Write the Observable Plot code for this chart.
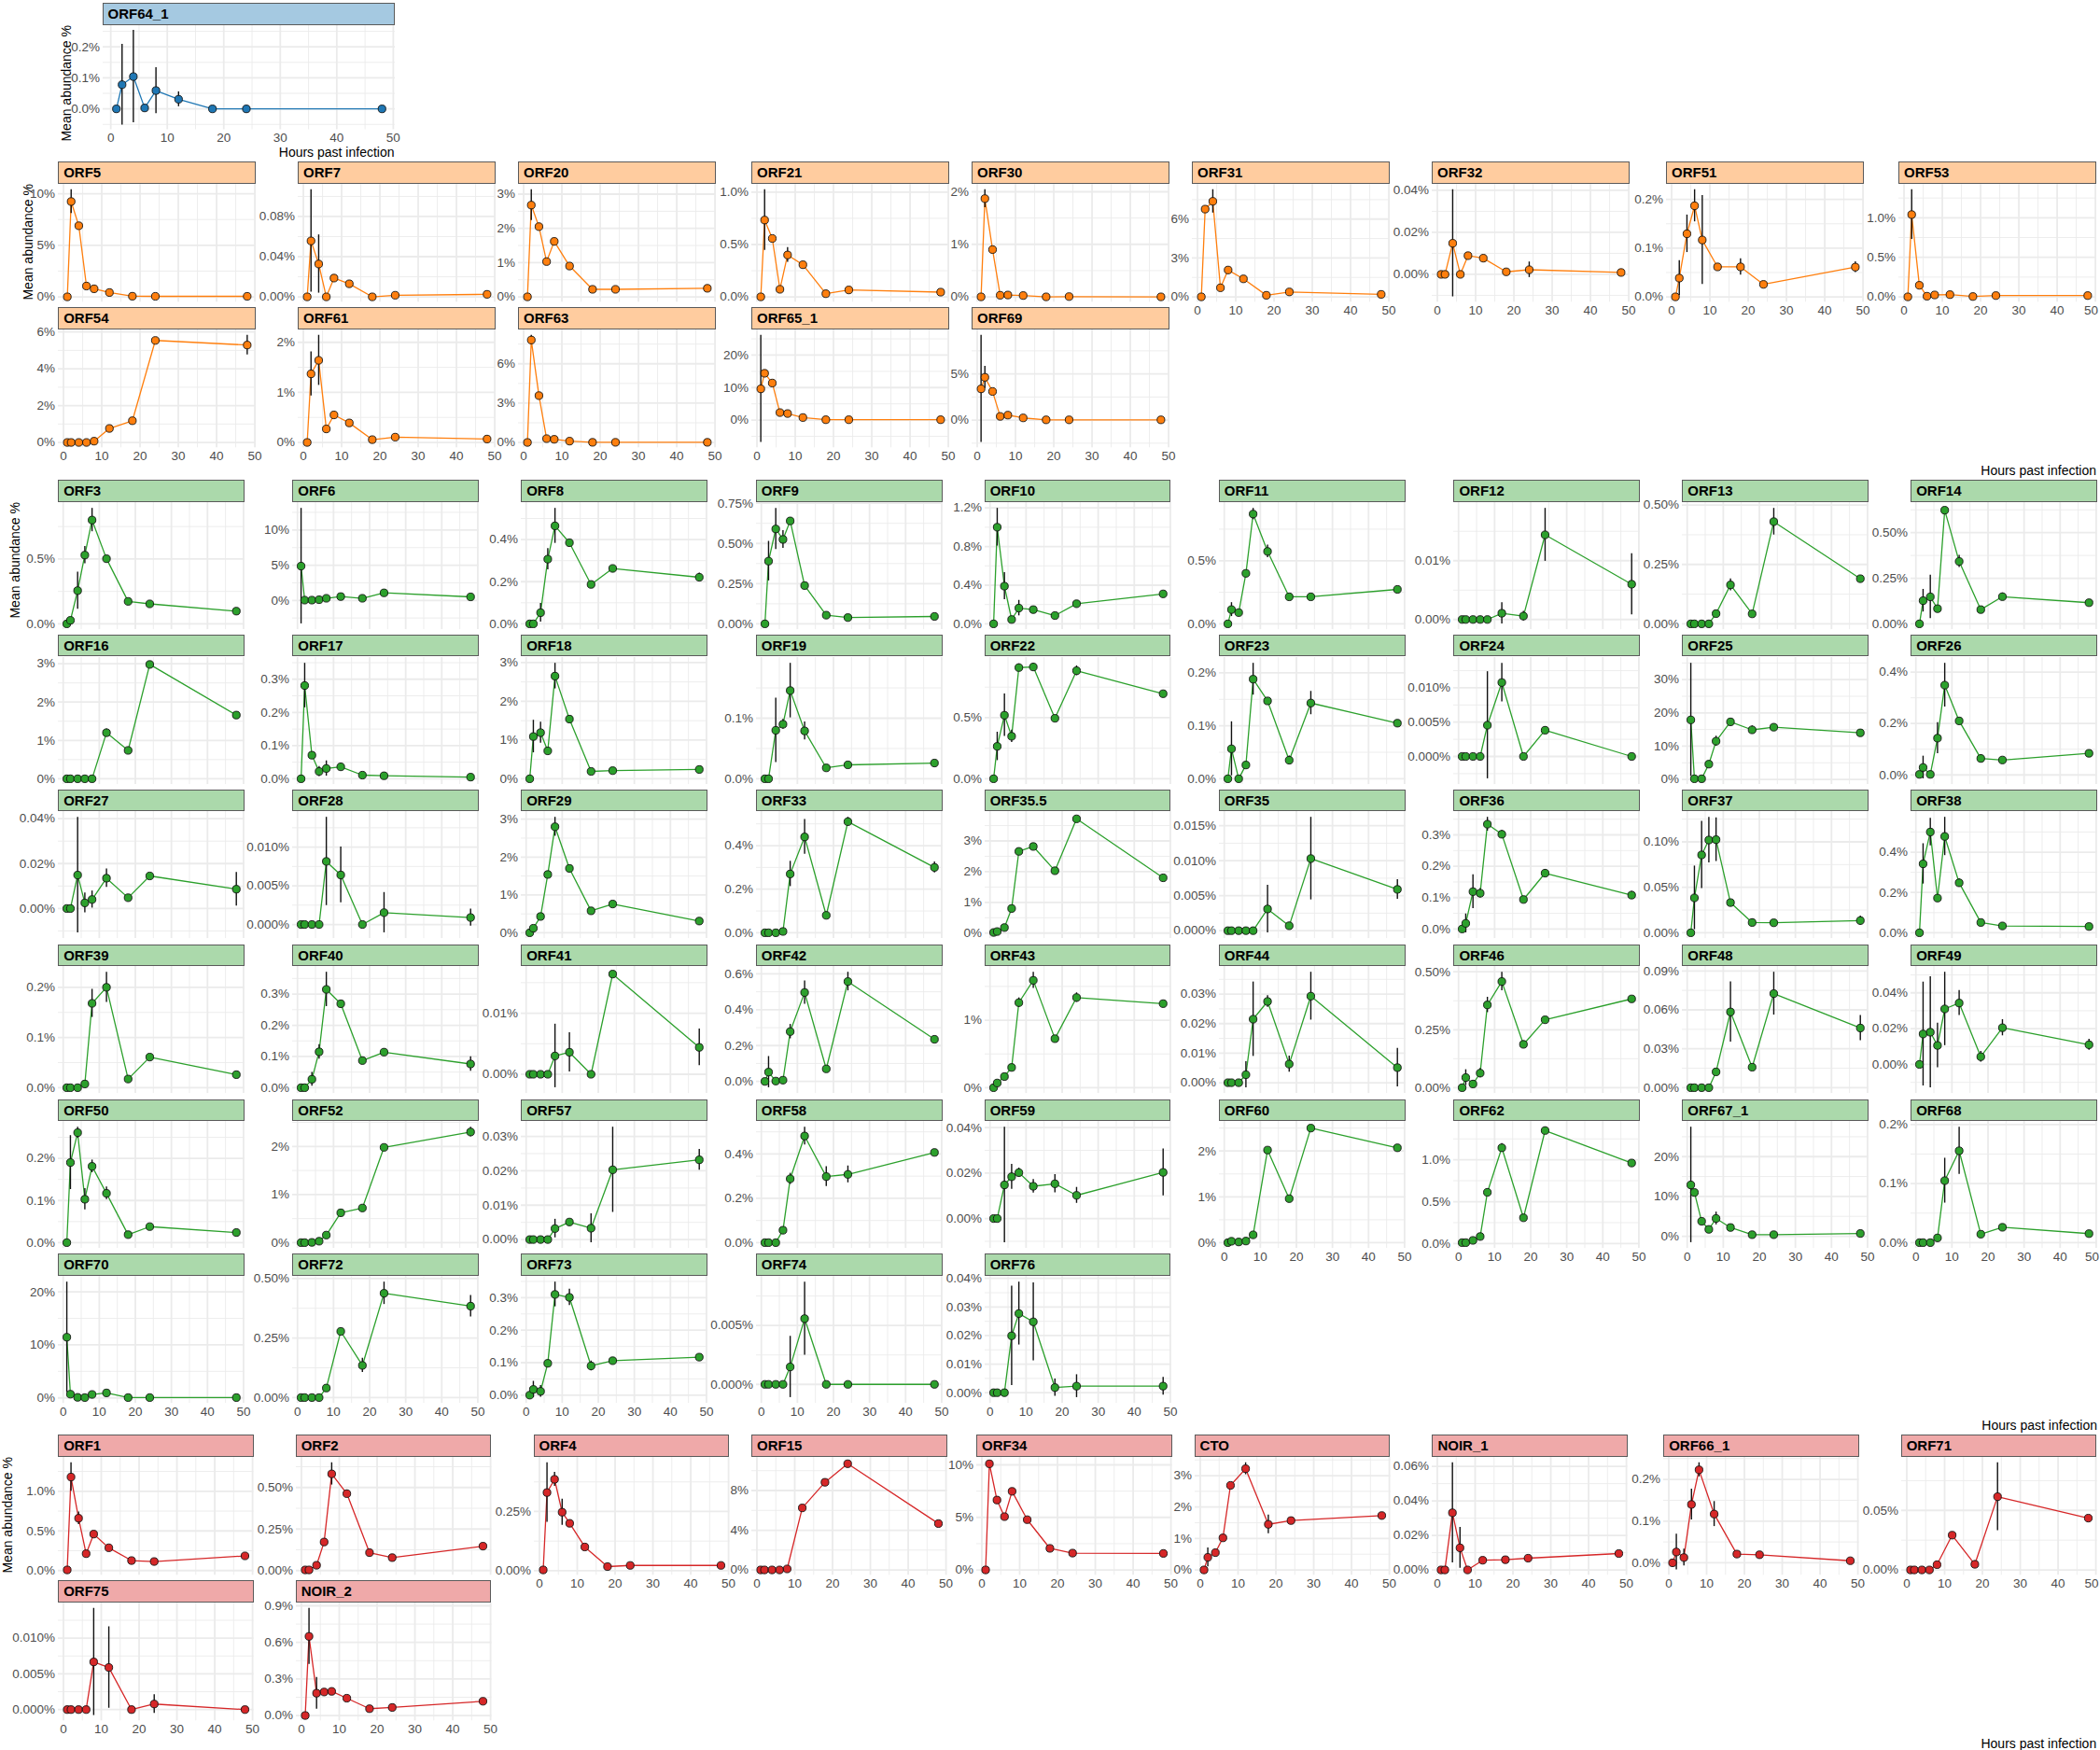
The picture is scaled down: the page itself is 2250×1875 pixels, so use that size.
<!DOCTYPE html>
<html><head><meta charset="utf-8">
<script src="https://cdn.jsdelivr.net/npm/d3@7"></script>
<script src="https://cdn.jsdelivr.net/npm/@observablehq/plot@0.6"></script>
<style>
body{margin:0;background:#fff;}
#chart{position:relative;width:2250px;height:1875px;font-family:"Liberation Sans",Arial,sans-serif;overflow:hidden;background:#fff;}
.strip{position:absolute;box-sizing:border-box;border:1px solid #5a5a5a;font-weight:bold;font-size:15px;color:#000;padding-left:5px;display:flex;align-items:center;white-space:nowrap;}
.ttl{position:absolute;font-size:14px;line-height:16px;color:#000;white-space:nowrap;}
.wrap{position:absolute;}
.wrap svg{max-width:none !important;}
</style></head><body><div id="chart"></div>
<script>
// ---------------- data ----------------
const hours = [1, 2, 4, 6, 8, 12, 18, 24, 48];
const hourTicks = [0, 10, 20, 30, 40, 50];

const blueNames = ["ORF64_1"];
const blueMean = [[0, 0.078, 0.104, 0.003, 0.059, 0.031, 0, 0, 0]];
const blueErr  = [[0, 0.13, 0.149, 0, 0.074, 0.024, 0, 0, 0]];
const blueTicks = [[0, 0.1, 0.2]];

const orangeNames = ["ORF5","ORF7","ORF20","ORF21","ORF30","ORF31","ORF32","ORF51","ORF53","ORF54","ORF61","ORF63","ORF65_1","ORF69"];
const orangeMean = [
  [0, 9.25, 6.9, 1.05, 0.78, 0.42, 0.06, 0.05, 0.05],
  [0, 0.0557, 0.0327, 0, 0.0187, 0.013, 0, 0.0016, 0.0025],
  [0, 2.68, 2.05, 1.03, 1.62, 0.9, 0.22, 0.22, 0.25],
  [0, 0.734, 0.558, 0.072, 0.4, 0.307, 0.03, 0.066, 0.045],
  [0, 1.87, 0.9, 0.03, 0.035, 0.025, 0, 0.005, 0],
  [0, 6.77, 7.37, 0.7, 2.07, 1.39, 0.12, 0.38, 0.19],
  [0, 0, 0.0148, 0, 0.0089, 0.0077, 0.0012, 0.0022, 0.0009],
  [0, 0.0385, 0.1295, 0.187, 0.1167, 0.0615, 0.0615, 0.0256, 0.061],
  [0, 1.04, 0.146, 0.008, 0.024, 0.028, 0.004, 0.016, 0.016],
  [0, 0, 0, 0, 0.07, 0.76, 1.18, 5.54, 5.29],
  [0, 1.37, 1.64, 0.27, 0.55, 0.39, 0.056, 0.106, 0.068],
  [0, 7.81, 3.57, 0.29, 0.24, 0.1, 0.01, 0.01, 0.01],
  [9.6, 14.4, 11.4, 2.3, 2.0, 0.77, 0.1, 0.1, 0.1],
  [3.38, 4.63, 3.1, 0.4, 0.54, 0.24, 0.03, 0.03, 0.03]
];
const orangeErr = [
  [0, 1.15, 0.3, 0, 0, 0, 0, 0, 0],
  [0, 0.051, 0.029, 0, 0.002, 0.002, 0, 0.001, 0.001],
  [0, 0.45, 0.1, 0.05, 0.05, 0.05, 0.02, 0.02, 0.02],
  [0, 0.29, 0.02, 0.01, 0.07, 0.02, 0.01, 0.01, 0.01],
  [0, 0.17, 0.05, 0, 0, 0, 0, 0, 0],
  [0, 0.2, 0.9, 0.1, 0.1, 0.1, 0.05, 0.05, 0.05],
  [0, 0, 0.0255, 0, 0.0008, 0.0008, 0.0005, 0.0037, 0.0005],
  [0, 0.036, 0.0385, 0.033, 0.0914, 0.003, 0.0167, 0.003, 0.011],
  [0, 0.315, 0.04, 0, 0, 0, 0, 0, 0],
  [0, 0, 0, 0, 0.02, 0.05, 0.05, 0.1, 0.53],
  [0, 0.44, 0.5, 0.03, 0.03, 0.03, 0.01, 0.01, 0.01],
  [0, 0.36, 0.1, 0.05, 0, 0, 0, 0, 0],
  [16.5, 0.8, 0.5, 0.2, 0.2, 0.1, 0, 0, 0],
  [5.8, 1.2, 0.2, 0.05, 0.05, 0.03, 0, 0, 0]
];
const orangeTicks = [
  [0, 5, 10], [0, 0.04, 0.08], [0, 1, 2, 3], [0, 0.5, 1.0], [0, 1, 2], [0, 3, 6], [0, 0.02, 0.04],
  [0, 0.1, 0.2], [0, 0.5, 1.0], [0, 2, 4, 6], [0, 1, 2], [0, 3, 6], [0, 10, 20], [0, 5]
];

const greenNames = ["ORF3","ORF6","ORF8","ORF9","ORF10","ORF11","ORF12","ORF13","ORF14",
  "ORF16","ORF17","ORF18","ORF19","ORF22","ORF23","ORF24","ORF25","ORF26",
  "ORF27","ORF28","ORF29","ORF33","ORF35.5","ORF35","ORF36","ORF37","ORF38",
  "ORF39","ORF40","ORF41","ORF42","ORF43","ORF44","ORF46","ORF48","ORF49",
  "ORF50","ORF52","ORF57","ORF58","ORF59","ORF60","ORF62","ORF67_1","ORF68",
  "ORF70","ORF72","ORF73","ORF74","ORF76"];
const greenMean = [
  [0, 0.027, 0.256, 0.53, 0.8, 0.502, 0.173, 0.154, 0.098],
  [4.87, 0.04, 0.04, 0.1, 0.3, 0.54, 0.3, 1.07, 0.5],
  [0, 0, 0.053, 0.307, 0.465, 0.385, 0.187, 0.263, 0.221],
  [0, 0.39, 0.59, 0.525, 0.64, 0.238, 0.054, 0.039, 0.046],
  [0, 1.0, 0.39, 0.045, 0.163, 0.147, 0.086, 0.208, 0.31],
  [0, 0.113, 0.089, 0.4, 0.87, 0.574, 0.214, 0.214, 0.273],
  [0, 0, 0, 0, 0, 0.00106, 0.00058, 0.0144, 0.006],
  [0, 0, 0, 0, 0.043, 0.164, 0.042, 0.43, 0.19],
  [0, 0.127, 0.148, 0.083, 0.623, 0.342, 0.078, 0.149, 0.116],
  [0, 0, 0, 0, 0, 1.2, 0.74, 2.98, 1.66],
  [0, 0.281, 0.071, 0.022, 0.031, 0.036, 0.011, 0.009, 0.005],
  [0, 1.09, 1.19, 0.72, 2.65, 1.54, 0.19, 0.21, 0.24],
  [0, 0, 0.08, 0.09, 0.1456, 0.079, 0.018, 0.023, 0.026],
  [0, 0.265, 0.52, 0.348, 0.91, 0.915, 0.495, 0.884, 0.696],
  [0, 0.0566, 0, 0.026, 0.188, 0.147, 0.035, 0.143, 0.105],
  [0, 0, 0, 0, 0.00455, 0.01077, 0, 0.00382, 0],
  [17.9, 0.2, 0.2, 4.6, 11.5, 17.3, 14.9, 15.7, 14.0],
  [0.002, 0.029, 0.002, 0.143, 0.349, 0.21, 0.064, 0.058, 0.084],
  [0, 0, 0.0149, 0.0025, 0.004, 0.0135, 0.0048, 0.0145, 0.0086],
  [0, 0, 0, 0, 0.00815, 0.0064, 0, 0.00153, 0.0009],
  [0, 0.12, 0.43, 1.54, 2.8, 1.7, 0.58, 0.76, 0.31],
  [0, 0, 0, 0.006, 0.27, 0.44, 0.08, 0.51, 0.3],
  [0.02, 0.05, 0.18, 0.8, 2.66, 2.82, 2.03, 3.72, 1.8],
  [0, 0, 0, 0, 0, 0.0031, 0.0007, 0.0103, 0.0059],
  [0, 0.018, 0.119, 0.114, 0.334, 0.302, 0.094, 0.178, 0.108],
  [0, 0.0384, 0.0856, 0.102, 0.1024, 0.0332, 0.0113, 0.011, 0.0134],
  [0, 0.342, 0.5, 0.172, 0.478, 0.248, 0.051, 0.034, 0.031],
  [0, 0, 0, 0.0074, 0.168, 0.2, 0.0173, 0.061, 0.026],
  [0, 0, 0.027, 0.115, 0.315, 0.269, 0.087, 0.114, 0.076],
  [0, 0, 0, 0, 0.003, 0.0036, 0, 0.0164, 0.0044],
  [0, 0.052, 0.002, 0.007, 0.278, 0.496, 0.07, 0.557, 0.235],
  [0, 0.07, 0.165, 0.3, 1.26, 1.59, 0.726, 1.335, 1.245],
  [0, 0, 0, 0.0027, 0.0215, 0.0275, 0.0063, 0.0293, 0.0051],
  [0, 0.0436, 0.016, 0.063, 0.357, 0.458, 0.187, 0.293, 0.383],
  [0, 0, 0, 0, 0.0122, 0.0584, 0.0158, 0.0725, 0.046],
  [0, 0.017, 0.018, 0.0106, 0.031, 0.0343, 0.0043, 0.0205, 0.011],
  [0, 0.19, 0.261, 0.103, 0.181, 0.117, 0.019, 0.038, 0.024],
  [0, 0, 0.005, 0.03, 0.157, 0.62, 0.72, 1.98, 2.3],
  [0, 0, 0, 0, 0.0032, 0.0051, 0.0033, 0.0203, 0.0232],
  [0, 0, 0, 0.056, 0.288, 0.481, 0.298, 0.308, 0.407],
  [0, 0, 0.0148, 0.0184, 0.0202, 0.0142, 0.0153, 0.0102, 0.0203],
  [0, 0.03, 0.015, 0.035, 0.17, 2.02, 0.96, 2.5, 2.07],
  [0.011, 0.011, 0.038, 0.084, 0.612, 1.144, 0.308, 1.35, 0.962],
  [12.9, 11.0, 3.76, 1.73, 4.47, 2.2, 0.4, 0.4, 0.7],
  [0, 0, 0, 0.008, 0.105, 0.1556, 0.0143, 0.026, 0.0153],
  [11.45, 0.7, 0.1, 0.06, 0.65, 0.94, 0.06, 0.06, 0.06],
  [0, 0, 0, 0, 0.04, 0.278, 0.135, 0.438, 0.384],
  [0, 0.0175, 0.0117, 0.098, 0.31, 0.301, 0.09, 0.106, 0.117],
  [0, 0, 0, 0, 0.00148, 0.00558, 0, 0, 0],
  [0, 0, 0, 0.0199, 0.0277, 0.0248, 0.0018, 0.0023, 0.0023]
];
const greenErr = [
  [0, 0.01, 0.143, 0.067, 0.09, 0.01, 0.01, 0.01, 0.005],
  [8.2, 0, 0, 0, 0, 0, 0, 0, 0],
  [0, 0, 0.044, 0.05, 0.083, 0.01, 0.01, 0.01, 0.02],
  [0, 0.123, 0.128, 0.055, 0.02, 0.02, 0, 0, 0],
  [0, 0.195, 0.14, 0.01, 0.08, 0.01, 0.01, 0.01, 0.01],
  [0, 0.055, 0.02, 0.01, 0.045, 0.05, 0.01, 0.01, 0.01],
  [0, 0, 0, 0, 0, 0.0018, 0.0008, 0.0045, 0.0052],
  [0, 0, 0, 0, 0.005, 0.025, 0.005, 0.056, 0.005],
  [0, 0.062, 0.119, 0.01, 0.01, 0.033, 0.01, 0.02, 0.01],
  [0, 0, 0, 0, 0, 0.1, 0.03, 0.03, 0.07],
  [0, 0.067, 0.01, 0.015, 0.023, 0.01, 0.003, 0.002, 0.002],
  [0, 0.42, 0.27, 0.05, 0.33, 0.05, 0.02, 0.02, 0.02],
  [0, 0, 0.053, 0.008, 0.045, 0.015, 0.004, 0.002, 0.002],
  [0, 0.116, 0.174, 0.05, 0.03, 0.03, 0.01, 0.04, 0.01],
  [0, 0.051, 0, 0.003, 0.03, 0.005, 0.008, 0.022, 0.003],
  [0, 0, 0, 0, 0.0078, 0.0028, 0, 0.0005, 0],
  [17, 0, 0, 0.5, 1.5, 0.5, 1.2, 0.5, 0.5],
  [0.002, 0.044, 0.002, 0.06, 0.085, 0.01, 0.015, 0.005, 0.005],
  [0, 0, 0.0257, 0.0044, 0.0038, 0.0041, 0.001, 0.001, 0.0075],
  [0, 0, 0, 0, 0.0057, 0.0036, 0, 0.0026, 0.0011],
  [0, 0.02, 0.05, 0.05, 0.25, 0.05, 0.05, 0.05, 0.05],
  [0, 0, 0, 0.003, 0.058, 0.08, 0.015, 0.02, 0.025],
  [0.01, 0.02, 0.03, 0.03, 0.05, 0.05, 0.03, 0.05, 0.03],
  [0, 0, 0, 0, 0, 0.0034, 0.0005, 0.0059, 0.0014],
  [0, 0.03, 0.054, 0.015, 0.022, 0.012, 0.005, 0.012, 0.012],
  [0, 0.035, 0.037, 0.025, 0.024, 0.003, 0.004, 0.002, 0.005],
  [0, 0.1, 0.068, 0.01, 0.095, 0.02, 0.008, 0.005, 0.005],
  [0, 0, 0, 0.003, 0.028, 0.03, 0.003, 0.003, 0.003],
  [0, 0, 0.022, 0.023, 0.055, 0.005, 0.01, 0.01, 0.023],
  [0, 0, 0, 0, 0.0052, 0.0032, 0, 0.0003, 0.003],
  [0, 0.087, 0, 0.005, 0.04, 0.065, 0.005, 0.052, 0.01],
  [0, 0.02, 0.01, 0.01, 0.07, 0.12, 0.02, 0.07, 0.02],
  [0, 0, 0, 0.0044, 0.0126, 0.002, 0.0027, 0.0081, 0.0065],
  [0, 0.034, 0.015, 0.02, 0.033, 0.04, 0.015, 0.005, 0.005],
  [0, 0, 0, 0, 0.002, 0.0232, 0.002, 0.0165, 0.0097],
  [0, 0.029, 0.031, 0.0125, 0.0205, 0.007, 0.003, 0.0045, 0.003],
  [0, 0.064, 0.013, 0.025, 0.015, 0.015, 0.003, 0.003, 0.003],
  [0, 0, 0, 0, 0, 0, 0, 0.02, 0.1],
  [0, 0, 0, 0, 0.0027, 0.0005, 0.0042, 0.0124, 0.003],
  [0, 0, 0, 0.005, 0.025, 0.04, 0.045, 0.038, 0.005],
  [0, 0, 0.0254, 0.0055, 0.002, 0.003, 0.004, 0.0035, 0.0103],
  [0, 0, 0, 0, 0.02, 0.02, 0.02, 0.02, 0.02],
  [0, 0, 0.01, 0.01, 0.04, 0.05, 0.02, 0.04, 0.02],
  [14.5, 0.5, 0.3, 0.3, 1.6, 0.3, 0, 0, 0],
  [0, 0, 0, 0.002, 0.038, 0.04, 0.003, 0.003, 0.003],
  [10.4, 0, 0, 0, 0, 0, 0, 0, 0],
  [0, 0, 0, 0, 0.005, 0.01, 0.03, 0.047, 0.045],
  [0, 0.025, 0.018, 0.005, 0.038, 0.025, 0.015, 0.005, 0.005],
  [0, 0, 0, 0, 0.0026, 0.0031, 0, 0, 0],
  [0, 0, 0, 0.0174, 0.011, 0.0136, 0.003, 0.004, 0.0031]
];
const greenTicks = [
  [0, 0.5], [0, 5, 10], [0, 0.2, 0.4], [0, 0.25, 0.5, 0.75], [0, 0.4, 0.8, 1.2], [0, 0.5], [0, 0.01], [0, 0.25, 0.5], [0, 0.25, 0.5],
  [0, 1, 2, 3], [0, 0.1, 0.2, 0.3], [0, 1, 2, 3], [0, 0.1], [0, 0.5, 1.0], [0, 0.1, 0.2], [0, 0.005, 0.01], [0, 10, 20, 30], [0, 0.2, 0.4],
  [0, 0.02, 0.04], [0, 0.005, 0.01], [0, 1, 2, 3], [0, 0.2, 0.4], [0, 1, 2, 3, 4], [0, 0.005, 0.01, 0.015], [0, 0.1, 0.2, 0.3], [0, 0.05, 0.1], [0, 0.2, 0.4],
  [0, 0.1, 0.2], [0, 0.1, 0.2, 0.3], [0, 0.01], [0, 0.2, 0.4, 0.6], [0, 1], [0, 0.01, 0.02, 0.03], [0, 0.25, 0.5], [0, 0.03, 0.06, 0.09], [0, 0.02, 0.04],
  [0, 0.1, 0.2], [0, 1, 2], [0, 0.01, 0.02, 0.03], [0, 0.2, 0.4], [0, 0.02, 0.04], [0, 1, 2], [0, 0.5, 1.0], [0, 10, 20], [0, 0.1, 0.2],
  [0, 10, 20], [0, 0.25, 0.5], [0, 0.1, 0.2, 0.3], [0, 0.005], [0, 0.01, 0.02, 0.03, 0.04]
];

const redNames = ["ORF1","ORF2","ORF4","ORF15","ORF34","CTO","NOIR_1","ORF66_1","ORF71","ORF75","NOIR_2"];
const redMean = [
  [0.008, 1.18, 0.66, 0.213, 0.46, 0.287, 0.126, 0.114, 0.185],
  [0.004, 0.004, 0.032, 0.172, 0.582, 0.463, 0.108, 0.078, 0.147],
  [0.003, 0.33, 0.386, 0.247, 0.2, 0.1, 0.017, 0.022, 0.022],
  [0, 0, 0, 0, 0.1, 6.25, 8.83, 10.7, 4.67],
  [0, 10.1, 6.65, 5.07, 7.48, 4.78, 2.05, 1.6, 1.57],
  [0, 0.4, 0.55, 1.02, 2.69, 3.22, 1.45, 1.57, 1.73],
  [0, 0, 0.0331, 0.0128, 0, 0.0056, 0.0059, 0.0068, 0.0095],
  [0, 0.026, 0.0127, 0.14, 0.223, 0.117, 0.021, 0.0194, 0.005],
  [0, 0, 0, 0, 0.0044, 0.0292, 0.0047, 0.0615, 0.0435],
  [0, 0, 0, 0, 0.00667, 0.00589, 0, 0.00078, 0],
  [0, 0.649, 0.183, 0.193, 0.198, 0.142, 0.056, 0.066, 0.117]
];
const redErr = [
  [0, 0.18, 0.08, 0.01, 0.01, 0.01, 0.01, 0.01, 0.01],
  [0, 0, 0.005, 0.01, 0.067, 0.02, 0.01, 0.01, 0.01],
  [0, 0.126, 0.03, 0.055, 0.005, 0.005, 0.003, 0.003, 0.003],
  [0, 0, 0, 0, 0.02, 0.1, 0.1, 0.1, 0.1],
  [0, 0.1, 0.1, 0.1, 0.1, 0.1, 0.05, 0.05, 0.05],
  [0, 0.3, 0.05, 0.05, 0.05, 0.19, 0.3, 0.05, 0.1],
  [0, 0, 0.029, 0.0118, 0, 0.001, 0.001, 0.001, 0.001],
  [0, 0.043, 0.02, 0.037, 0.017, 0.03, 0.006, 0.003, 0.003],
  [0, 0, 0, 0, 0.002, 0.002, 0.003, 0.0285, 0.002],
  [0, 0, 0, 0, 0.0075, 0.0057, 0, 0.0013, 0],
  [0, 0.23, 0.13, 0.01, 0.01, 0.01, 0.005, 0.005, 0.005]
];
const redTicks = [
  [0, 0.5, 1.0], [0, 0.25, 0.5], [0, 0.25], [0, 4, 8], [0, 5, 10], [0, 1, 2, 3], [0, 0.02, 0.04, 0.06],
  [0, 0.1, 0.2], [0, 0.05], [0, 0.005, 0.01], [0, 0.3, 0.6, 0.9]
];

// ---------------- layout & style ----------------
const STRIP_H = 23.4;
const ML = 70;
const FONT = '"Liberation Sans", Arial, sans-serif';
const TICK_COLOR = "#4d4d4d";
const groups = [
  {names: blueNames, mean: blueMean, err: blueErr, ticks: blueTicks, color: "#1f77b4",
   ncol: 1, cols: [109.5], w: 313, top: 3.3, pitch: 0, ph: 111.5, titleX: 70.5},
  {names: orangeNames, mean: orangeMean, err: orangeErr, ticks: orangeTicks, color: "#ff7f0e",
   ncol: 9, cols: [62.2, 319, 555, 805, 1041, 1277, 1534, 1785, 2034], w: 212, top: 173.3, pitch: 156, ph: 126.3, titleX: 29.9},
  {names: greenNames, mean: greenMean, err: greenErr, ticks: greenTicks, color: "#2ca02c",
   ncol: 9, cols: [62.2, 313.3, 558.2, 809.8, 1054.7, 1305.8, 1557.4, 1802.3, 2047.2], w: 199.8, top: 514.3, pitch: 165.8, ph: 136.1, titleX: 15.5},
  {names: redNames, mean: redMean, err: redErr, ticks: redTicks, color: "#d62728",
   ncol: 9, cols: [62.2, 316.7, 571.6, 805, 1046, 1279.6, 1534.4, 1782.2, 2036.7], w: 209.5, top: 1537.3, pitch: 156, ph: 126.3, titleX: 8.4}
];

const chart = document.getElementById("chart");
const xExt = d3.extent(hours);
const xPad = (xExt[1] - xExt[0]) * 0.05;
const xDom = [xExt[0] - xPad, xExt[1] + xPad];

function decimals(v) {
  const s = String(+v.toFixed(6));
  const k = s.indexOf(".");
  return k < 0 ? 0 : s.length - k - 1;
}
function minorOf(ticks, dom) {
  const step = ticks[1] - ticks[0];
  const ext = [ticks[0] - step, ...ticks, ticks[ticks.length - 1] + step];
  const m = [];
  for (let k = 0; k < ext.length - 1; k++) m.push((ext[k] + ext[k + 1]) / 2);
  return m.filter(v => v >= dom[0] && v <= dom[1]);
}
const xMinor = minorOf(hourTicks, xDom);

function makePanel(mean, err, ticks, color, w, h, showX, atRightEdge) {
  const rows = hours.map((t, k) => ({t, v: mean[k], e: err[k], lo: mean[k] - err[k], hi: mean[k] + err[k]}));
  const lo = d3.min(rows, d => d.lo), hi = d3.max(rows, d => d.hi);
  const pad = (hi - lo) * 0.05 || 0.01;
  const yDom = [lo - pad, hi + pad];
  const dec = d3.max(ticks, decimals);
  const yMajor = ticks.filter(v => v >= yDom[0] && v <= yDom[1]);
  const yMinor = minorOf(ticks, yDom);
  const MB = showX ? 22 : 0;
  const marks = [
    Plot.ruleY(yMinor, {stroke: "#ebebeb", strokeWidth: 0.9}),
    Plot.ruleX(xMinor, {stroke: "#ebebeb", strokeWidth: 0.9}),
    Plot.ruleY(yMajor, {stroke: "#ebebeb", strokeWidth: 1.8}),
    Plot.ruleX(hourTicks, {stroke: "#ebebeb", strokeWidth: 1.8}),
    Plot.line(rows, {x: "t", y: "v", stroke: color, strokeWidth: 1.3}),
    Plot.ruleX(rows.filter(d => d.e > 0), {x: "t", y1: "lo", y2: "hi", stroke: "#111", strokeWidth: 1.4}),
    Plot.dot(rows, {x: "t", y: "v", r: 4.1, fill: color, stroke: "#111", strokeWidth: 0.9})
  ];
  if (showX) {
    const lastTick = hourTicks[hourTicks.length - 1];
    const inner = atRightEdge ? hourTicks.slice(0, -1) : hourTicks;
    const textOpts = {x: d => d, y: () => yDom[0], text: d => String(d), lineAnchor: "top", dy: 3.5,
                      fill: TICK_COLOR, fontSize: 13.5, fontFamily: FONT};
    marks.push(Plot.text(inner, {...textOpts, textAnchor: "middle"}));
    if (atRightEdge) marks.push(Plot.text([lastTick], {...textOpts, textAnchor: "end", dx: 3}));
  }
  return Plot.plot({
    width: ML + w, height: h + MB,
    marginLeft: ML, marginRight: 0, marginTop: 0, marginBottom: MB,
    style: {background: "transparent", overflow: "visible", fontFamily: FONT, fontSize: "13.5px", color: TICK_COLOR, maxWidth: "none"},
    x: {domain: xDom, axis: null, label: null},
    y: {domain: yDom, axis: "left", ticks: yMajor, tickSize: 0, tickPadding: 3.5, label: null, tickFormat: v => v.toFixed(dec) + "%"},
    marks
  });
}

function addDiv(cls, text, css) {
  const d = document.createElement("div");
  d.className = cls;
  d.textContent = text;
  Object.assign(d.style, css);
  chart.appendChild(d);
  return d;
}

for (const g of groups) {
  const stripFill = d3.interpolateRgb("#ffffff", g.color)(0.4);
  let maxBottom = 0;
  const firstPanelTop = g.top + STRIP_H;
  g.names.forEach((name, i) => {
    const row = Math.floor(i / g.ncol), col = i % g.ncol;
    const left = g.cols[col];
    const stripTop = g.top + row * g.pitch;
    const panelTop = stripTop + STRIP_H;
    const showX = i + g.ncol >= g.names.length;
    const atRightEdge = left + g.w > 2240;
    maxBottom = Math.max(maxBottom, panelTop + g.ph);
    addDiv("strip", name, {left: left + "px", top: stripTop + "px", width: g.w + "px", height: STRIP_H + "px", background: stripFill});
    const wrap = document.createElement("div");
    wrap.className = "wrap";
    wrap.style.left = (left - ML) + "px";
    wrap.style.top = panelTop + "px";
    wrap.style.width = (ML + g.w) + "px";
    wrap.appendChild(makePanel(g.mean[i], g.err[i], g.ticks[i], g.color, g.w, g.ph, showX, atRightEdge));
    chart.appendChild(wrap);
  });
  // y axis title (rotated, top-aligned with first panel)
  const W = 200;
  addDiv("ttl", "Mean abundance %", {
    left: (g.titleX - 8) + "px", top: (firstPanelTop + W) + "px", width: W + "px", textAlign: "right",
    transform: "rotate(-90deg)", transformOrigin: "0 0"
  });
  // x axis title (right-aligned at the last column)
  const right = g.cols[g.ncol - 1] + g.w;
  addDiv("ttl", "Hours past infection", {
    left: (right - 300) + "px", top: (maxBottom + 24.5 - 8) + "px", width: "300px", textAlign: "right"
  });
}
</script>
</body></html>
